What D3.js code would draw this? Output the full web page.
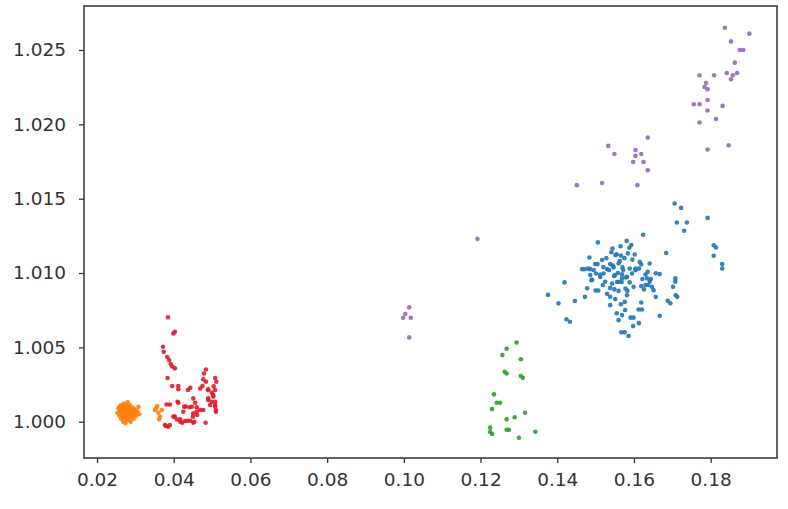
<!DOCTYPE html>
<html>
<head>
<meta charset="utf-8">
<script src="https://cdn.jsdelivr.net/npm/d3@7"></script>
<style>
  body { margin: 0; background: #fff; }
  .tick text { font-family: "DejaVu Sans", sans-serif; font-size: 18.5px; fill: #333; }
  .tick line { stroke: #333; stroke-width: 1.3; }
</style>
</head>
<body>
<div id="scatter"></div>
<script>
// cluster values, [x, y]
var blue = [
  [0.1376,1.00853],[0.1403,1.00796],[0.1419,1.00937],[0.1424,1.00689],[0.1433,1.00672],[0.1446,1.00812],
  [0.1472,1.00840],[0.1465,1.01026],[0.1471,1.01025],[0.1484,1.01105],[0.1486,1.01026],[0.1491,1.00955],
  [0.1478,1.00898],[0.1500,1.00883],[0.1507,1.00883],[0.1506,1.01206],[0.1517,1.01088],[0.1499,1.01060],
  [0.1538,1.01060],[0.1530,1.01026],[0.1547,1.01038],[0.1560,1.01064],[0.1570,1.01038],[0.1589,1.01031],
  [0.1604,1.01031],[0.1619,1.01058],[0.1486,1.00986],[0.1501,1.00997],[0.1512,1.00974],[0.1521,1.00997],
  [0.1551,1.00986],[0.1569,1.00991],[0.1569,1.00964],[0.1582,1.00974],[0.1595,1.00997],[0.1489,1.00952],
  [0.1525,1.00941],[0.1543,1.00930],[0.1560,1.00941],[0.1589,1.00937],[0.1619,1.00912],[0.1538,1.00900],
  [0.1549,1.00890],[0.1578,1.00896],[0.1538,1.00840],[0.1551,1.00825],[0.1582,1.00851],[0.1538,1.00784],
  [0.1576,1.00806],[0.1619,1.00802],[0.1577,1.00751],[0.1612,1.00755],[0.1621,1.00755],[0.1569,1.00717],
  [0.1560,1.00683],[0.1591,1.00700],[0.1599,1.00700],[0.1613,1.00663],[0.1598,1.00643],[0.1567,1.00601],
  [0.1576,1.00601],[0.1586,1.00577],[0.1624,1.01257],[0.1544,1.01165],[0.1555,1.01126],[0.1566,1.01117],
  [0.1581,1.01216],[0.1593,1.01189],[0.1584,1.01132],[0.1602,1.01125],[0.1615,1.01075],[0.1641,1.01064],
  [0.1604,1.01019],[0.1636,1.01008],[0.1657,1.00999],[0.1667,1.00993],[0.1634,1.00964],[0.1641,1.00941],
  [0.1630,1.00919],[0.1647,1.00907],[0.1651,1.00885],[0.1708,1.00964],[0.1708,1.00941],[0.1702,1.00907],
  [0.1709,1.00851],[0.1713,1.00840],[0.1688,1.00813],[0.1695,1.00796],[0.1657,1.00840],[0.1667,1.00712],
  [0.1599,1.00907],[0.1684,1.01135],[0.1706,1.01468],[0.1723,1.01438],[0.1712,1.01340],[0.1738,1.01340],
  [0.1731,1.01284],[0.1792,1.01371],[0.1808,1.01187],[0.1814,1.01172],[0.1808,1.01116],[0.1830,1.01060],
  [0.1830,1.01031],
  [0.1545,1.0105],[0.1552,1.0112],[0.1558,1.0100],[0.1563,1.0108],[0.1556,1.0094],[0.1565,1.0118],
  [0.1572,1.0102],[0.1548,1.0098],[0.1575,1.0110],[0.1560,1.0088],[0.1541,1.0114],[0.1568,1.0094],
  [0.1535,1.0102],[0.1579,1.0097],[0.1528,1.0110],[0.1520,1.0104],[0.1512,1.0099],[0.1505,1.0106],
  [0.1495,1.0102],[0.1630,1.0099],[0.1637,1.0092],[0.1626,1.0089],[0.1644,1.0096],[0.1622,1.0096],
  [0.1613,1.0103],[0.1596,1.0109],[0.1588,1.0117],[0.1566,1.0079],[0.1555,1.0073],[0.1583,1.0088],
  [0.1480,1.0103],[0.1519,1.0092],[0.1530,1.0086]
];

var orange = [
  [0.0253,1.0006],[0.0256,1.0009],[0.0258,1.0004],[0.0260,1.0007],[0.0262,1.0011],[0.0263,1.0002],
  [0.0265,1.0005],[0.0266,1.0009],[0.0268,1.0000],[0.0269,1.0007],[0.0270,1.0012],[0.0271,1.0003],
  [0.0272,1.0010],[0.0273,1.0006],[0.0274,0.9999],[0.0275,1.0008],[0.0276,1.0004],[0.0277,1.0011],
  [0.0278,1.0001],[0.0279,1.0007],[0.0280,1.0013],[0.0281,1.0005],[0.0282,1.0009],[0.0283,1.0002],
  [0.0284,1.0006],[0.0285,1.0011],[0.0286,1.0004],[0.0287,1.0008],[0.0288,1.0000],[0.0289,1.0006],
  [0.0290,1.0010],[0.0291,1.0003],[0.0292,1.0007],[0.0294,1.0005],[0.0295,1.0009],[0.0296,1.0002],
  [0.0298,1.0006],[0.0300,1.0008],[0.0302,1.0004],[0.0305,1.0007],[0.0308,1.0010],[0.0310,1.0005],
  [0.0259,1.0010],[0.0264,1.0007],[0.0267,1.0003],[0.0271,1.0009],[0.0274,1.0005],[0.0277,1.0002],
  [0.0279,1.0010],[0.0283,1.0007],[0.0286,1.0001],[0.0289,1.0008],[0.0293,1.0004],[0.0297,1.0008],
  [0.0357,1.00106],[0.0351,1.00079],[0.0360,1.00060],[0.0364,1.00034],[0.0362,1.00016],[0.0354,1.00090],
  [0.0369,1.00079]
];

var green = [
  [0.1294,1.00532],[0.1268,1.00491],[0.1257,1.00448],[0.1305,1.00420],[0.1263,1.00336],[0.1268,1.00324],
  [0.1305,1.00308],[0.1310,1.00295],[0.1235,1.00184],[0.1242,1.00128],[0.1251,1.00128],[0.1230,1.00085],
  [0.1316,1.00060],[0.1289,1.00030],[0.1268,1.00016],[0.1225,0.99960],[0.1225,0.99931],[0.1230,0.99917],
  [0.1268,0.99946],[0.1274,0.99946],[0.1300,0.99892],[0.1343,0.99933]
];

var red = [
  [0.0385,1.00702],[0.0399,1.00594],[0.0403,1.00605],[0.0372,1.00504],[0.0374,1.00470],[0.0383,1.00435],
  [0.0388,1.00415],[0.0392,1.00388],[0.0396,1.00371],[0.0403,1.00359],[0.0384,1.00294],[0.0396,1.00240],
  [0.0412,1.00240],[0.0412,1.00218],[0.0437,1.00213],[0.0443,1.00228],[0.0484,1.00351],[0.0479,1.00324],
  [0.0477,1.00285],[0.0484,1.00269],[0.0508,1.00294],[0.0511,1.00269],[0.0504,1.00238],[0.0489,1.00213],
  [0.0499,1.00196],[0.0503,1.00169],[0.0508,1.00213],[0.0490,1.00157],[0.0499,1.00134],[0.0508,1.00112],
  [0.0510,1.00079],[0.0490,1.00146],[0.0495,1.00112],[0.0469,1.00223],[0.0412,1.00128],[0.0451,1.00157],
  [0.0456,1.00128],[0.0381,1.00116],[0.0390,1.00116],[0.0431,1.00102],[0.0441,1.00097],[0.0460,1.00097],
  [0.0425,1.00067],[0.0477,1.00079],[0.0451,1.00056],[0.0460,1.00067],[0.0469,1.00079],[0.0399,1.00034],
  [0.0408,1.00015],[0.0417,1.00000],[0.0422,0.99993],[0.0430,1.00005],[0.0436,1.00007],[0.0443,1.00007],
  [0.0450,1.00034],[0.0461,1.00045],[0.0454,1.00000],[0.0451,0.99993],[0.0483,0.99993],[0.0377,0.99978],
  [0.0386,0.99966],[0.0390,0.99978],[0.0380,0.99971],[0.0410,1.00134],[0.0427,1.00101],[0.0447,1.00101],
  [0.0417,1.00016],[0.0403,1.00034],[0.0475,1.00240],[0.0490,1.00218],[0.0503,1.00180],[0.0508,1.00134],
  [0.0508,1.00101],[0.0510,1.00067]
];

var purple = [
  [0.1837,1.02650],[0.1901,1.02610],[0.1853,1.02558],[0.1876,1.02500],[0.1885,1.02500],[0.1863,1.02415],
  [0.1771,1.02330],[0.1809,1.02330],[0.1842,1.02345],[0.1858,1.02330],[0.1869,1.02345],[0.1853,1.02303],
  [0.1788,1.02278],[0.1784,1.02251],[0.1792,1.02236],[0.1756,1.02135],[0.1771,1.02135],[0.1792,1.02164],
  [0.1831,1.02124],[0.1792,1.02093],[0.1814,1.02036],[0.1771,1.02012],[0.1847,1.01859],[0.1792,1.01831],
  [0.1636,1.01911],[0.1533,1.01855],[0.1549,1.01801],[0.1604,1.01828],[0.1619,1.01801],[0.1604,1.01788],
  [0.1598,1.01747],[0.1625,1.01747],[0.1636,1.01691],[0.1451,1.01591],[0.1517,1.01606],[0.1609,1.01591],
  [0.1192,1.01230],[0.1014,1.00769],[0.1004,1.00724],[0.0998,1.00699],[0.1018,1.00699],[0.1014,1.00567]
];

var seriesData = [blue, orange, green, red, purple];
var seriesColors = ["#1f77b4", "#ff7f0e", "#2ca02c", "#e01b2a", "#9467bd"];

var xTicks = [0.02, 0.04, 0.06, 0.08, 0.10, 0.12, 0.14, 0.16, 0.18];
var yTicks = [1.000, 1.005, 1.010, 1.015, 1.020, 1.025];

// plot frame
var margin = {top: 6, right: 11, bottom: 51, left: 84},
    width = 788 - margin.left - margin.right,
    height = 509 - margin.top - margin.bottom;

var svg = d3.select("#scatter")
            .append("svg")
            .attr("width", 788)
            .attr("height", 509)
            .append("g")
            .attr("transform", "translate(" + margin.left + "," + margin.top + ")");

var x = d3.scaleLinear()
            .domain([0.0166, 0.1973])
            .range([0, width]);

var y = d3.scaleLinear()
            .domain([0.99756, 1.02796])
            .range([height, 0]);

// x axis
var xAxis = svg.append("g")
            .attr("transform", "translate(0," + height + ")")
            .call(d3.axisBottom(x).tickValues(xTicks).tickFormat(d3.format(".2f")).tickSize(5).tickPadding(10).tickSizeOuter(0));
xAxis.select(".domain").remove();

// y axis
var yAxis = svg.append("g")
            .call(d3.axisLeft(y).tickValues(yTicks).tickFormat(d3.format(".3f")).tickSize(5).tickPadding(13).tickSizeOuter(0));
yAxis.select(".domain").remove();

// dots
seriesData.forEach(function(pts, i) {
    svg.append("g")
       .selectAll("circle")
       .data(pts)
       .enter().append("circle")
       .attr("cx", function(d) { return x(d[0]); })
       .attr("cy", function(d) { return y(d[1]); })
       .attr("r", 2.3)
       .attr("fill", seriesColors[i])
       .attr("fill-opacity", 0.9);
});

svg.append("rect")
   .attr("x", 0)
   .attr("y", 0)
   .attr("width", width)
   .attr("height", height)
   .attr("fill", "none")
   .attr("stroke", "#333")
   .attr("stroke-width", 1.5);
</script>
</body>
</html>
